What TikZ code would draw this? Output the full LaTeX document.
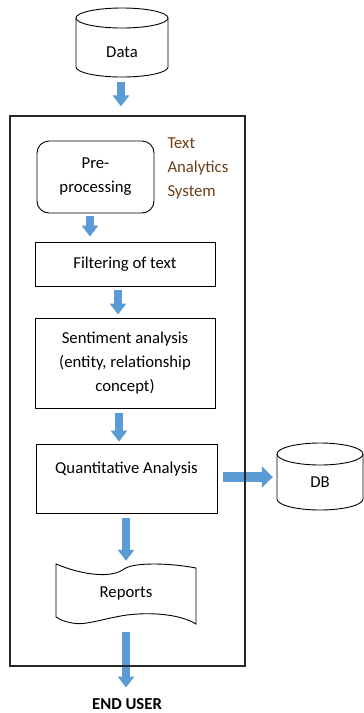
\documentclass[tikz,border=0pt]{standalone}
\usepackage{fontspec}
\setmainfont{Carlito}
\usetikzlibrary{arrows.meta,positioning,calc}
\definecolor{arrowblue}{RGB}{91,155,213}
\definecolor{titlebrown}{RGB}{110,62,22}
\tikzset{
  box/.style={draw, line width=0.9pt, minimum width=180, align=center},
  outline/.style={line width=0.9pt},
  flowarrow/.style={arrowblue, line width=8pt, -{Triangle[width=16pt,length=11pt]}},
}

\begin{document}
\begin{tikzpicture}[x=1pt,y=-1pt,font=\fontsize{16.7}{24}\selectfont]
    \useasboundingbox (0,0) rectangle (364,713);
    % data source drum
    \draw [outline] (122,18) ellipse [x radius=46pt, y radius=10pt];
    \draw [outline] (76,18) -- (76,67) arc [start angle=180, end angle=360, x radius=46pt, y radius=10pt] -- (168,18);
    \node [minimum width=92, minimum height=50] (data) at (122,52) {Data};
    % database drum
    \draw [outline] (320,454) ellipse [x radius=43pt, y radius=11pt];
    \draw [outline] (277,454) -- (277,499) arc [start angle=180, end angle=360, x radius=43pt, y radius=11pt] -- (363,454);
    \node [minimum width=86, minimum height=56] (db) at (320,482) {DB};
    % steps inside the system
    \node [box, rounded corners=12pt, minimum width=117, minimum height=72] (pre) at (95.5,177) {Pre-\\processing};
    \node [anchor=west, align=left, text=titlebrown] (tas) at (164,168) {Text\\Analytics\\System};
    \node [box, minimum height=44] (filt) at (125,264) {Filtering of text};
    \node [box, minimum height=90] (sent) at (125,363) {Sentiment analysis\\(entity, relationship\\concept)};
    \node [box, minimum width=181, minimum height=69, text depth=22pt] (quant) at (126.5,478.5) {Quantitative Analysis};
    % reports sheet
    \draw [outline] (56,564) .. controls (85,576) and (112,578) .. (124,569)
        .. controls (134,562) and (170,563) .. (196,568) -- (196,624)
        .. controls (180,614) and (150,612) .. (127,615)
        .. controls (105,618) and (85,626) .. (72,623)
        .. controls (63,621) .. (56,617) -- cycle;
    \node [minimum width=140, minimum height=60] (rep) at (126,593) {Reports};
    \node [anchor=base] (user) at (127,709) {\bfseries END USER};
    % block arrows
    \draw [flowarrow, shorten <=3pt, shorten >=5pt] ([xshift=-5.5pt]pre.south) -- ([xshift=-5.5pt]pre.south |- filt.north);
    \draw [flowarrow, shorten <=4pt, shorten >=3pt] ([xshift=-7pt]filt.south) -- ([xshift=-7pt]filt.south |- sent.north);
    \draw [flowarrow, shorten <=5pt, shorten >=2pt] ([xshift=-6pt]sent.south) -- ([xshift=-6pt]sent.south |- quant.north);
    \draw [flowarrow, shorten <=5pt, shorten >=2pt] ([xshift=-0.5pt]quant.south) -- ([xshift=-0.5pt]quant.south |- rep.north);
    \draw [flowarrow, shorten <=9pt, shorten >=7pt] (rep.south) -- (rep.south |- user.north);
    \draw [flowarrow, line width=10pt, -{Triangle[width=21pt,length=11pt]}, shorten <=6pt, shorten >=4pt]
        ([yshift=1.5pt]quant.east) -- ([yshift=1.5pt]quant.east -| db.west);
    % system border
    \node [draw, line width=1.2pt, draw=black!85, minimum width=235, minimum height=550] (sys) at (127.5,391) {};
    \draw [flowarrow, shorten <=5pt, shorten >=9pt] ([xshift=-1pt]data.south) -- ([xshift=-1pt]data.south |- sys.north);
\end{tikzpicture}
\end{document}
